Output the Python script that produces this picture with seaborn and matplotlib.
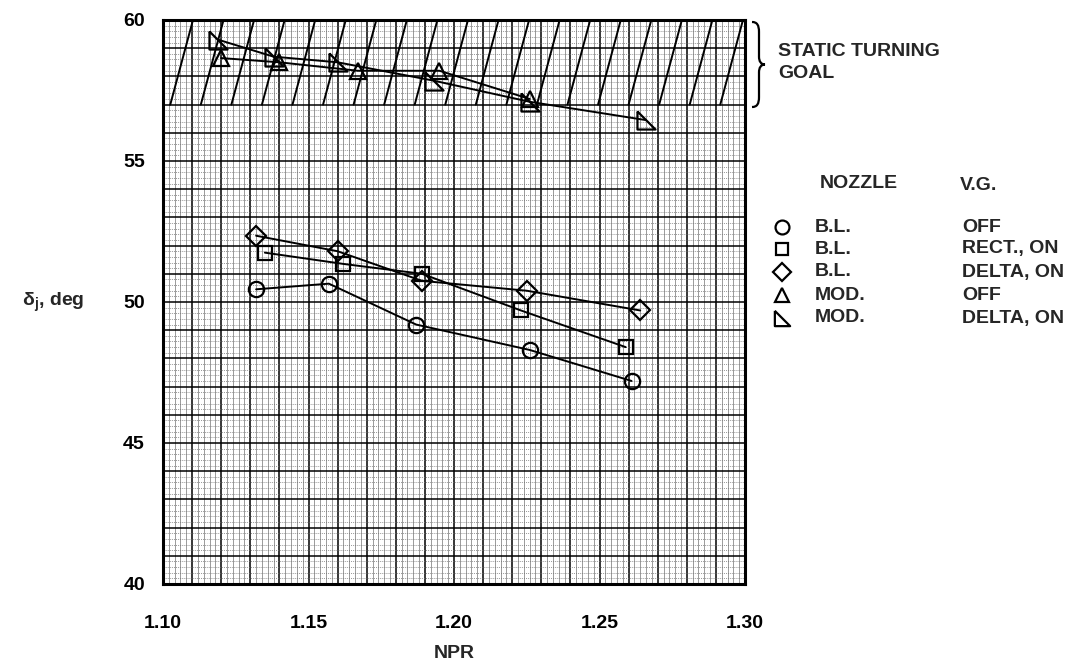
import numpy as np
import pandas as pd
import matplotlib
matplotlib.use("Agg")
import matplotlib.pyplot as plt
from matplotlib.path import Path
from matplotlib.patches import PathPatch
from matplotlib.ticker import MultipleLocator, FuncFormatter
import seaborn as sns

# ---------------- data ----------------
bl_off_x = [1.132, 1.157, 1.187, 1.226, 1.261]
bl_off_y = [50.45, 50.65, 49.2, 48.3, 47.2]

bl_rect_x = [1.135, 1.162, 1.189, 1.223, 1.259]
bl_rect_y = [51.75, 51.35, 51.0, 49.7, 48.4]

bl_delta_x = [1.132, 1.160, 1.189, 1.225, 1.264]
bl_delta_y = [52.35, 51.8, 50.75, 50.4, 49.7]

mod_off_x = [1.120, 1.140, 1.167, 1.195, 1.226]
mod_off_y = [58.65, 58.5, 58.2, 58.2, 57.2]

mod_delta_x = [1.119, 1.138, 1.160, 1.193, 1.226, 1.266]
mod_delta_y = [59.3, 58.7, 58.5, 57.85, 57.1, 56.45]

goal_band = [57.0, 60.0]

x_ticks = [1.10, 1.15, 1.20, 1.25, 1.30]
y_ticks = [40, 45, 50, 55, 60]

legend_nozzle = ["B.L.", "B.L.", "B.L.", "MOD.", "MOD."]
legend_vg = ["OFF", "RECT., ON", "DELTA, ON", "OFF", "DELTA, ON"]

# ---------------- style ----------------
sns.set_theme(style="white")
plt.rcParams["font.family"] = ["Liberation Sans Narrow", "Liberation Sans", "DejaVu Sans"]
plt.rcParams["mathtext.fontset"] = "custom"

W, H = 1078, 669
fig = plt.figure(figsize=(W / 100, H / 100), dpi=100)
ax = fig.add_axes([163 / W, 1 - 584 / H, (745 - 163) / W, (584 - 20) / H])

def fx(px):
    return px / W

def fy(py):
    return 1 - py / H

# graph paper grid
ax.set_xlim(1.10, 1.30)
ax.set_ylim(40, 60)
for xv in np.arange(1.10, 1.3001, 0.002):
    major = abs(round(xv * 100) - xv * 100) < 1e-6
    ax.axvline(xv, color="black" if major else "0.45",
               lw=1.1 if major else 0.5, zorder=0)
for yv in np.arange(40, 60.001, 0.2):
    major = abs(round(yv) - yv) < 1e-6
    ax.axhline(yv, color="black" if major else "0.45",
               lw=1.1 if major else 0.5, ls="-" if major else (0, (1.5, 1.5)),
               zorder=0)

# hatch for static turning goal band
x0s = np.arange(1.092, 1.30, 0.0105)
for x0 in x0s:
    ax.plot([x0, x0 + 0.0078], [goal_band[0], goal_band[1]], color="black",
            lw=1.4, zorder=1, clip_on=True)

# ---------------- series ----------------
rt_marker = [(-1, 1), (-1, -1), (1, -1), (-1, 1)]
series = [
    (bl_off_x, bl_off_y, "o", 11),
    (bl_rect_x, bl_rect_y, "s", 10),
    (bl_delta_x, bl_delta_y, "D", 10),
    (mod_off_x, mod_off_y, "^", 11),
    (mod_delta_x, mod_delta_y, rt_marker, 13),
]
for xs, ys, mk, ms in series:
    df = pd.DataFrame({"NPR": xs, "delta": ys})
    sns.lineplot(data=df, x="NPR", y="delta", ax=ax, sort=False,
                 color="black", lw=1.4, marker=mk, markersize=ms,
                 markerfacecolor="none", markeredgecolor="black",
                 markeredgewidth=1.6, zorder=3)

# ---------------- axes ----------------
ax.xaxis.set_major_locator(plt.FixedLocator(x_ticks))
ax.yaxis.set_major_locator(plt.FixedLocator(y_ticks))
ax.xaxis.set_major_formatter(FuncFormatter(lambda v, p: f"{v:.2f}"))
ax.yaxis.set_major_formatter(FuncFormatter(lambda v, p: f"{v:.0f}"))
ax.tick_params(axis="both", length=0, labelsize=14, colors="black")
ax.tick_params(axis="x", pad=22)
ax.tick_params(axis="y", pad=13)
for lab in ax.get_xticklabels() + ax.get_yticklabels():
    lab.set_fontweight("bold")
for s in ax.spines.values():
    s.set_visible(True)
    s.set_color("black")
    s.set_linewidth(2.2)
ax.set_xlabel("NPR", fontsize=14, fontweight="bold", labelpad=10)
ax.set_ylabel("")
fig.text(fx(22), fy(302), r"$\mathregular{\delta_j}$, deg", fontsize=14,
         fontweight="bold", ha="left", va="center")

# ---------------- legend block ----------------
fig.text(fx(820), fy(183), "NOZZLE", fontsize=14, fontweight="bold", va="center")
fig.text(fx(960), fy(185), "V.G.", fontsize=14, fontweight="bold", va="center")
leg_markers = ["o", "s", "D", "^", rt_marker]
leg_sizes = [10, 9, 9, 10, 11]
rows = [227, 249, 272, 295, 318]
for mk, sz, ry, nz, vg in zip(leg_markers, leg_sizes, rows, legend_nozzle, legend_vg):
    ax.plot([fx(782)], [fy(ry)], marker=mk, markersize=sz, mfc="none",
            mec="black", mew=1.6, transform=fig.transFigure, clip_on=False)
    fig.text(fx(815), fy(ry), nz, fontsize=14, fontweight="bold", va="center")
    fig.text(fx(962), fy(ry), vg, fontsize=14, fontweight="bold", va="center")

# brace + goal label
bx, by0, by1 = 752, 22, 107
bm = (by0 + by1) / 2
verts = [
    (bx, by0), (bx + 7, by0), (bx + 7, by0 + 4), (bx + 7, by0 + 10),
    (bx + 7, bm - 8), (bx + 7, bm - 2), (bx + 13, bm),
    (bx + 7, bm + 2), (bx + 7, bm + 8),
    (bx + 7, by1 - 10), (bx + 7, by1 - 4), (bx + 7, by1), (bx, by1),
]
codes = [Path.MOVETO, Path.CURVE4, Path.CURVE4, Path.CURVE4,
         Path.LINETO, Path.CURVE4, Path.CURVE4, Path.CURVE4, Path.CURVE4,
         Path.LINETO, Path.CURVE4, Path.CURVE4, Path.CURVE4]
# fix to valid curve sequence
verts = [
    (bx, by0),
    (bx + 5, by0), (bx + 7, by0 + 3), (bx + 7, by0 + 10),
    (bx + 7, bm - 8),
    (bx + 7, bm - 3), (bx + 9, bm), (bx + 13, bm),
    (bx + 9, bm), (bx + 7, bm + 3), (bx + 7, bm + 8),
    (bx + 7, by1 - 10),
    (bx + 7, by1 - 3), (bx + 5, by1), (bx, by1),
]
codes = [Path.MOVETO,
         Path.CURVE4, Path.CURVE4, Path.CURVE4,
         Path.LINETO,
         Path.CURVE4, Path.CURVE4, Path.CURVE4,
         Path.CURVE4, Path.CURVE4, Path.CURVE4,
         Path.LINETO,
         Path.CURVE4, Path.CURVE4, Path.CURVE4]
path = Path([(fx(a), fy(b)) for a, b in verts], codes)
fig.add_artist(PathPatch(path, transform=fig.transFigure, fill=False,
                         lw=1.6, edgecolor="black"))
fig.text(fx(778), fy(52), "STATIC TURNING", fontsize=14, fontweight="bold", va="center")
fig.text(fx(778), fy(74), "GOAL", fontsize=14, fontweight="bold", va="center")

fig.savefig("out.png", dpi=100, facecolor="white")
